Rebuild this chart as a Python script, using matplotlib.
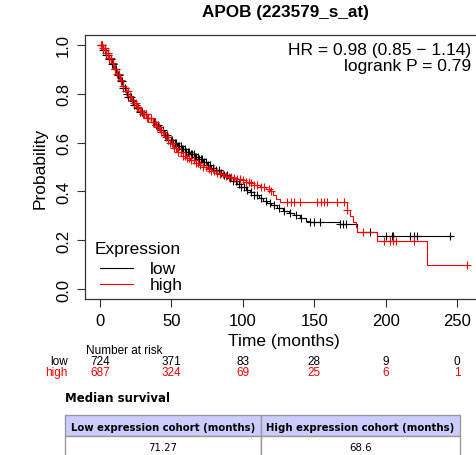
import numpy as np
import matplotlib
matplotlib.use('Agg')
import matplotlib.pyplot as plt
from matplotlib.patches import Rectangle

plt.rcParams['font.family'] = ['Liberation Sans', 'DejaVu Sans']

# Curvas de sobrevivência (Kaplan-Meier)
t_low = [0, 2, 4, 6, 8, 10, 12, 14, 16, 18, 20, 22, 24, 26, 28, 30, 33, 36, 39, 42,
         45, 48, 51, 54, 57, 60, 63, 66, 69, 72, 75, 78, 81, 84, 87, 90, 93, 96, 99,
         102, 105, 108, 111, 114, 117, 120, 124, 128, 132, 136, 140, 144, 146, 168, 180, 194]
s_low = [1.0, .98, .96, .94, .92, .90, .875, .85, .825, .80, .785, .77, .755, .74, .725, .715, .70, .685, .67, .652,
         .632, .612, .598, .585, .572, .562, .552, .542, .532, .52, .508, .497, .487, .477, .467, .456, .443, .430, .418,
         .405, .398, .385, .372, .362, .353, .345, .333, .322, .313, .303, .293, .280, .275, .266, .234, .217]
fim_low = 246

t_high = [0, 2, 4, 6, 8, 10, 12, 14, 16, 18, 20, 22, 24, 26, 28, 30, 33, 36, 39, 42,
          45, 48, 51, 54, 57, 60, 63, 66, 69, 72, 75, 78, 81, 84, 87, 90, 93, 96, 99,
          102, 105, 108, 112, 116, 119, 121, 123, 126, 173, 175, 177, 179, 180, 194, 229]
s_high = [1.0, .985, .965, .945, .925, .90, .88, .855, .83, .81, .79, .775, .76, .745, .73, .715, .70, .685, .665, .645,
          .622, .598, .578, .56, .547, .537, .527, .517, .507, .499, .491, .483, .476, .47, .465, .46, .455, .45, .445,
          .44, .433, .428, .42, .412, .40, .385, .37, .355, .325, .30, .275, .255, .235, .197, .10]
fim_high = 257

cens_low = [0.5, 1.5, 2.5, 3.5, 4.5, 5.5, 6.5, 7.5, 8.5, 9.5, 10.5, 11.5, 12.5, 13.5, 14.5, 15.5, 16.5, 17.5,
            19, 20, 21.5, 23, 24, 25.5, 27, 28, 29.5, 31, 32.5, 34, 35.5, 37, 38, 39.5, 41, 42.5, 44, 45.5,
            47, 48, 49.5, 50.5, 51.5, 52.5, 53.5, 54.5, 55.5, 56.5, 57.5, 58.5, 59.5, 60.5, 61.5, 62.5,
            63.5, 64.5, 65.5, 66.5, 67.5, 68.5, 69.5, 70.5, 71.5, 72.5, 74, 75.5, 77, 79, 81, 83,
            85, 87, 89, 91, 93, 95, 97, 99, 101, 103, 106, 108, 110, 113, 116, 119, 122, 125, 129, 133,
            137, 141, 147, 150, 154, 168, 170, 172, 189, 200, 204, 205, 217, 220, 222, 245]
cens_high = [0.5, 1.5, 2.5, 3.5, 4.5, 5.5, 6.5, 7.5, 9, 10.5, 12, 13.5, 15, 16.5, 18, 19.5, 21, 22.5, 24,
             25, 26, 27, 28, 29, 30, 31, 32, 33, 34, 35.5, 37, 38.5, 40, 41.5, 43, 44.5, 46, 47.5, 49,
             50.5, 52, 53.5, 55, 56.5, 58, 59.5, 61, 62.5, 64, 65.5, 67, 68.5, 70, 72, 74, 76, 78, 80,
             82, 84, 86, 88, 90, 92, 94, 96, 98, 100, 102, 104, 106, 108, 110, 113, 115, 118, 120,
             131, 134, 136, 140, 152, 155, 157, 159, 166, 171, 173, 184, 199, 203, 205, 207, 220, 257]

risco_t = [0, 50, 100, 150, 200, 250]
risco_low = [724, 371, 83, 28, 9, 0]
risco_high = [687, 324, 69, 25, 6, 1]

mediana_cab = ['Low expression cohort (months)', 'High expression cohort (months)']
mediana_val = ['71.27', '68.6']

VERMELHO = '#ff0000'

fig = plt.figure(figsize=(4.76, 4.56), dpi=100)
ax = fig.add_axes([85 / 476, 1 - 300 / 456, 398 / 476, 264 / 456])


def desenha(t, s, fim, cens, cor):
    t = np.array(t + [fim])
    s = np.array(s + [s[-1]])
    ax.step(t, s, where='post', color=cor, lw=0.8)
    c = np.array(cens)
    idx = np.searchsorted(t, c, side='right') - 1
    ax.plot(c, s[idx], ls='none', marker='+', color=cor, ms=5.5, mew=0.8)


desenha(t_low, s_low, fim_low, cens_low, 'black')
desenha(t_high, s_high, fim_high, cens_high, VERMELHO)

ax.set_xlim(-10.4, 268)
ax.set_ylim(-0.04, 1.04)
ax.set_xticks(risco_t)
ax.set_yticks([0, 0.2, 0.4, 0.6, 0.8, 1.0])
ax.set_yticklabels(['0.0', '0.2', '0.4', '0.6', '0.8', '1.0'], rotation=90, va='center')
ax.tick_params(direction='out', length=6, width=0.8, labelsize=12, color='#333333', pad=4)
for sp in ax.spines.values():
    sp.set_color('#333333')
    sp.set_linewidth(0.9)
ax.set_xlabel('Time (months)', fontsize=12.5, labelpad=4)
ax.set_ylabel('Probability', fontsize=12.5, labelpad=6)

ax.text(260, 0.98, 'HR = 0.98 (0.85 \u2212 1.14)', ha='right', va='center', fontsize=12.5)
ax.text(260, 0.914, 'logrank P = 0.79', ha='right', va='center', fontsize=12.5)

# Legenda
ax.text(-3.5, 0.168, 'Expression', ha='left', va='center', fontsize=12.5)
ax.plot([0, 23], [0.086, 0.086], color='black', lw=0.8)
ax.plot([0, 23], [0.02, 0.02], color=VERMELHO, lw=0.8)
ax.text(35, 0.086, 'low', ha='left', va='center', fontsize=12.5)
ax.text(35, 0.02, 'high', ha='left', va='center', fontsize=12.5)

fig.text(285 / 476, 1 - 13 / 456, 'APOB (223579_s_at)', ha='center', va='center',
         fontsize=12.3, fontweight='bold')

# Número em risco
tr = ax.get_xaxis_transform()
ax.text(-9.8, -51 / 264, 'Number at risk', transform=tr, ha='left', va='center', fontsize=8.5, clip_on=False)
ax.text(-22.4, -62 / 264, 'low', transform=tr, ha='right', va='center', fontsize=8.5, clip_on=False)
ax.text(-22.4, -73 / 264, 'high', transform=tr, ha='right', va='center', fontsize=8.5,
        color=VERMELHO, clip_on=False)
for x, a, b in zip(risco_t, risco_low, risco_high):
    ax.text(x, -62 / 264, str(a), transform=tr, ha='center', va='center', fontsize=8.5, clip_on=False)
    ax.text(x, -73 / 264, str(b), transform=tr, ha='center', va='center', fontsize=8.5,
            color=VERMELHO, clip_on=False)

# Tabela da mediana
W, H = 476, 456
fig.text(65 / W, 1 - 398 / H, 'Median survival', ha='left', va='center', fontsize=8.5,
         fontweight='bold', family='DejaVu Sans')
x0, x1, x2 = 65, 261, 460
y0, y1, y2 = 416, 437, 460
for xa, xb in [(x0, x1), (x1, x2)]:
    fig.patches.append(Rectangle((xa / W, 1 - y1 / H), (xb - xa) / W, (y1 - y0) / H,
                                 transform=fig.transFigure, facecolor='#ccccff',
                                 edgecolor='#999999', lw=1))
    fig.patches.append(Rectangle((xa / W, 1 - y2 / H), (xb - xa) / W, (y2 - y1) / H,
                                 transform=fig.transFigure, facecolor='white',
                                 edgecolor='#999999', lw=1))
for (xa, xb), cab, val in zip([(x0, x1), (x1, x2)], mediana_cab, mediana_val):
    xc = (xa + xb) / 2 / W
    fig.text(xc, 1 - 428 / H, cab, ha='center', va='center', fontsize=7.3, fontweight='bold',
             family='DejaVu Sans')
    fig.text(xc, 1 - 448 / H, val, ha='center', va='center', fontsize=7.3, family='DejaVu Sans')

fig.savefig('out.png', dpi=100)
